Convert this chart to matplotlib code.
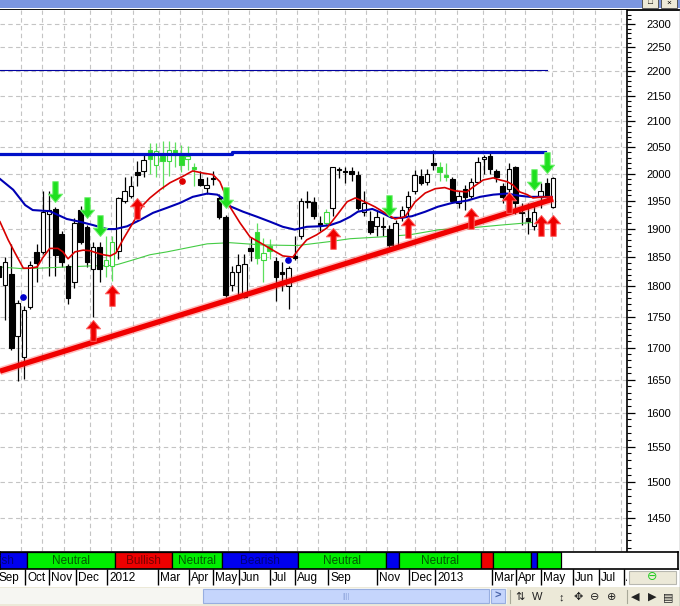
import matplotlib
matplotlib.use('Agg')
import matplotlib.pyplot as plt
from matplotlib.path import Path
from matplotlib.patches import Rectangle
from matplotlib.ticker import FixedLocator, FormatStrFormatter, NullFormatter

plt.rcParams['font.family'] = ['Liberation Sans', 'DejaVu Sans']

# weekly candles, week 0 = week of 12 Sep 2011
weeks = list(range(-1, 88))
opens = [1835, 1803, 1821, 1719, 1685, 1765, 1859, 1859, 1926, 1935,
         1891, 1835, 1807, 1933, 1903, 1829, 1867, 1835, 1835, 1860,
         1950, 1959, 2002, 2004, 2044, 2017, 2033, 2023, 2044, 2036,
         2027, 2013, 1989, 1974, 1991, 1954, 1921, 1802, 1824, 1783,
         1865, 1893, 1845, 1869, 1843, 1824, 1800, 1852, 1887, 1950,
         1948, 1910, 1910, 1937, 2009, 2004, 2004, 1998, 1930, 1913,
         1904, 1905, 1900, 1869, 1921, 1939, 1967, 1996, 1985, 2019,
         2013, 1998, 1989, 1945, 1972, 1959, 1985, 2027, 2033, 2004,
         1976, 1972, 2013, 1930, 1919, 1904, 1957, 1982, 1939]
highs = [1840, 1850, 1872, 1778, 1768, 1843, 1872, 1967, 1967, 1939,
         1895, 1838, 1919, 1941, 1907, 1876, 1876, 1887, 1887, 1957,
         1994, 1996, 2023, 2035, 2057, 2057, 2061, 2061, 2059, 2055,
         2053, 2019, 2004, 1994, 2004, 1963, 1924, 1835, 1855, 1855,
         1885, 1910, 1884, 1882, 1850, 1841, 1835, 1887, 1954, 1967,
         1956, 1923, 1935, 2013, 2013, 2013, 2013, 2004, 1967, 1931,
         1931, 1921, 1907, 1915, 1941, 1967, 2006, 2009, 2009, 2044,
         2021, 2019, 1994, 1967, 1978, 1991, 2032, 2035, 2040, 2009,
         1982, 2019, 2015, 1945, 1945, 1945, 1982, 1991, 1994]
lows = [1810, 1745, 1697, 1648, 1651, 1762, 1807, 1855, 1817, 1817,
        1833, 1770, 1798, 1872, 1833, 1750, 1807, 1816, 1809, 1847,
        1945, 1954, 1976, 1994, 2000, 1994, 1972, 1996, 2013, 2002,
        2006, 1976, 1976, 1963, 1978, 1917, 1782, 1792, 1783, 1780,
        1843, 1838, 1807, 1847, 1775, 1792, 1762, 1845, 1882, 1937,
        1917, 1895, 1904, 1923, 1991, 1982, 1987, 1933, 1923, 1890,
        1887, 1887, 1860, 1864, 1913, 1923, 1963, 1978, 1978, 2006,
        1987, 1987, 1945, 1937, 1933, 1954, 1982, 2000, 2000, 1985,
        1945, 1963, 1926, 1907, 1890, 1898, 1937, 1954, 1937]
closes = [1816, 1841, 1700, 1772, 1760, 1836, 1840, 1930, 1933, 1853,
          1841, 1780, 1910, 1876, 1841, 1868, 1829, 1845, 1877, 1954,
          1968, 1976, 1998, 2025, 2027, 2042, 2023, 2044, 2035, 2017,
          2033, 2009, 1978, 1978, 1989, 1921, 1785, 1824, 1836, 1838,
          1860, 1848, 1857, 1860, 1816, 1821, 1831, 1848, 1950, 1948,
          1922, 1907, 1929, 2012, 2007, 2002, 2000, 1937, 1945, 1893,
          1921, 1903, 1871, 1910, 1934, 1959, 1998, 1983, 2000, 2017,
          2002, 1993, 1950, 1959, 1956, 1985, 2021, 2031, 2009, 1994,
          1956, 2009, 1945, 1928, 1913, 1930, 1968, 1959, 1991]
# candles drawn in the pattern colour
pattern_weeks = [16, 17, 23, 24, 25, 26, 27, 28, 29, 30, 40, 41, 42, 51, 69, 70]

red_ma_weeks = [-0.8, 0.5, 1.6, 2.9, 4.0, 5.1, 6.0, 7.1, 8.4, 9.2,
                10.0, 11.1, 12.4, 13.5, 14.6, 15.6, 16.7, 17.6, 18.7, 20.3,
                21.9, 23.0, 24.6, 26.2, 28.1, 29.8, 31.4, 33.0, 34.1, 35.1,
                35.7, 37.3, 38.9, 40.5, 42.5, 44.1, 45.7, 46.8, 47.9, 49.5,
                51.1, 52.7, 54.3, 55.6, 57.1, 58.7, 60.3, 61.9, 63.5, 65.1,
                66.7, 68.3, 69.8, 71.4, 73.3, 74.3, 75.9, 77.5, 78.6, 79.7,
                80.6, 81.7, 82.9, 83.8, 85.4, 86.8]
red_ma = [1912, 1880, 1857, 1831, 1831, 1833, 1849, 1865, 1865, 1859,
          1847, 1859, 1862, 1861, 1857, 1854, 1852, 1857, 1880, 1910,
          1942, 1955, 1970, 1983, 1994, 2005, 2001, 1998, 1985, 1957,
          1939, 1910, 1885, 1875, 1862, 1852, 1850, 1866, 1880, 1889,
          1901, 1924, 1948, 1955, 1948, 1939, 1928, 1917, 1921, 1948,
          1964, 1972, 1974, 1968, 1966, 1975, 1988, 1992, 1988, 1985,
          1979, 1966, 1961, 1955, 1957, 1957]

blue_ma_weeks = [-0.8, 1.3, 3.2, 4.4, 7.1, 9.8, 11.9, 14.0, 16.2, 17.5,
                 19.4, 21.4, 23.5, 25.7, 27.8, 29.8, 32.1, 33.7, 34.9, 35.7,
                 37.8, 40.0, 42.1, 44.1, 46.0, 47.9, 50.0, 51.6, 53.2, 54.8,
                 56.0, 58.3, 59.8, 61.4, 63.0, 64.6, 66.7, 68.7, 71.0, 73.3,
                 75.4, 77.5, 79.7, 81.7, 83.3, 84.9, 86.8]
blue_ma = [1990, 1970, 1942, 1933, 1931, 1917, 1912, 1906, 1899, 1899,
           1904, 1915, 1928, 1937, 1946, 1957, 1963, 1961, 1952, 1940,
           1930, 1921, 1912, 1903, 1898, 1903, 1904, 1906, 1912, 1921,
           1930, 1935, 1928, 1919, 1919, 1922, 1930, 1939, 1946, 1950,
           1957, 1961, 1963, 1959, 1957, 1957, 1957]

green_ma_weeks = [-0.8, 2.9, 5.6, 9.8, 14.0, 16.2, 17.8, 20.3, 23.0, 25.7,
                  28.9, 32.1, 35.7, 41.0, 46.4, 51.6, 54.8, 59.5, 64.3, 69.0,
                  73.8, 78.6, 84.9]
green_ma = [1833, 1830, 1831, 1833, 1835, 1835, 1837, 1845, 1854, 1859,
            1866, 1873, 1875, 1871, 1870, 1877, 1882, 1885, 1889, 1898,
            1901, 1906, 1912]

resist_weeks = [-0.8, 36, 36, 85.7]
resist_levels = [2037, 2037, 2040, 2040]
upper_weeks = [-0.8, 86]
upper_levels = [2203, 2203]
trend_weeks = [-0.8, 87]
trend_levels = [1663, 1953]

sell_weeks = [8, 13, 15, 35, 61, 84, 86]
sell_prices = [1948, 1919, 1887, 1937, 1923, 1970, 2001]
buy_weeks = [14, 17, 21, 52, 64, 74, 80, 85, 87]
buy_prices = [1745, 1803, 1955, 1901, 1921, 1937, 1966, 1925, 1925]

blue_dot_weeks = [2.9, 44.9]
blue_dot_prices = [1782, 1845]
red_dot_weeks = [28.1]
red_dot_prices = [1986]

sentiment = ['Bearish', 'Neutral', 'Bullish', 'Neutral', 'Bearish', 'Neutral',
             'Bearish', 'Neutral', 'Bullish', 'Neutral', 'Bearish', 'Neutral']
sentiment_edges = [-7, 3.5, 17.5, 26.5, 34.5, 46.5, 60.5, 62.5, 75.5, 77.5,
                   83.5, 84.5, 88.25]

month_labels = ['Sep', 'Oct', 'Nov', 'Dec', '2012', 'Mar', 'Apr', 'May', 'Jun',
                'Jul', 'Aug', 'Sep', 'Nov', 'Dec', '2013', 'Mar', 'Apr', 'May',
                'Jun', 'Jul', 'Aug']
month_weeks = [-1.3, 3.2, 7.0, 11.3, 16.2, 24.3, 29.2, 33.0, 37.1, 42.1, 46.0,
               51.3, 59.0, 64.1, 68.3, 77.3, 81.1, 85.0, 90.2, 94.3, 98.3]

grid_weeks = [2.5, 5.8, 9.3, 13.5, 16.8, 20.3, 24.4, 27.8, 31.2, 35.4, 38.7,
              43.0, 46.4, 49.7, 54.0, 57.3, 60.7, 65.0, 68.3, 71.7, 75.9, 79.3,
              82.6, 86.8, 90.2, 93.6, 97.8]
price_ticks = list(range(1450, 2301, 50))

W, H = 680, 606
fig = plt.figure(figsize=(W / 100, H / 100), dpi=100)


def px_axes(x0, y0, x1, y1):
    return fig.add_axes([x0 / W, 1 - y1 / H, (x1 - x0) / W, (y1 - y0) / H])


# window chrome, in pixels
bg = fig.add_axes([0, 0, 1, 1])
bg.set_xlim(0, W)
bg.set_ylim(H, 0)
bg.axis('off')
bg.add_patch(Rectangle((0, 0), W, 8, color='#7b96e0', lw=0))
bg.plot([0, W], [8.5, 8.5], color='#dfe4f4', lw=0.8)
bg.plot([0, W], [9.6, 9.6], color='black', lw=1.3)
for x0, sym in ((642, '□'), (661, '×')):
    bg.add_patch(Rectangle((x0, -2), 16, 9.5, fc='#ece9d8', ec='#555555', lw=0.7))
    bg.text(x0 + 8, 3, sym, fontsize=6, ha='center', va='center', color='black')
bg.plot([679.5, 679.5], [10, H], color='#808080', lw=1)

bg.add_patch(Rectangle((0, 587), W, 19, color='#ece9d8', lw=0))
bg.add_patch(Rectangle((0, 588), 507, 16, fc='#f6f6f2', ec='none'))
bg.add_patch(Rectangle((203, 589), 286, 14, fc='#c5d5fc', ec='#98aee0', lw=0.8))
bg.text(346, 596, '||||', fontsize=5, ha='center', va='center', color='#8ea4dc')
bg.add_patch(Rectangle((491, 589), 14, 14, fc='#c5d5fc', ec='#98aee0', lw=0.8))
bg.text(498, 596, '>', fontsize=8, ha='center', va='center', color='#4a64a8',
        fontweight='bold')
for xs in (510, 627):
    bg.plot([xs, xs], [590, 603], color='#a8a898', lw=0.8)
icons = [(520, '⇅'), (537, 'W'), (561, '↕'), (578, '✥'), (595, '⊖'),
         (612, '⊕'), (635, '◀'), (652, '▶'), (668, '▤')]
for xi, sym in icons:
    bg.text(xi, 597, sym, fontsize=8, ha='center', va='center', color='#222222')
bg.add_patch(Rectangle((629, 571), 47, 13, fc='#ece9d8', ec='#b8b8b0', lw=0.8))
bg.text(652, 577.5, '⊖', fontsize=9, ha='center', va='center', color='#22cc22')

# price panel
ax = px_axes(0, 10, 627, 551)
ax.set_yscale('log')
ax.set_xlim(-0.794, 98.73)
ax.set_ylim(1406, 2330)
ax.set_facecolor('white')
ax.set_axisbelow(True)

ax.set_xticks(grid_weeks)
ax.tick_params(axis='x', length=0, labelbottom=False)
ax.yaxis.tick_right()
ax.yaxis.set_major_locator(FixedLocator(price_ticks))
ax.yaxis.set_minor_locator(FixedLocator([v for v in range(1410, 2330, 10) if v % 50]))
ax.yaxis.set_major_formatter(FormatStrFormatter('%d'))
ax.yaxis.set_minor_formatter(NullFormatter())
ax.tick_params(axis='y', which='major', direction='out', length=5.5, width=0.9,
               labelsize=8, pad=8.5, colors='black')
ax.tick_params(axis='y', which='minor', direction='out', length=2.7, width=0.8)
ax.grid(True, which='major', color='#c4c4c4', ls=(0, (4, 3)), lw=0.8)
for side in ('left', 'top', 'bottom'):
    ax.spines[side].set_visible(False)
ax.spines['right'].set_linewidth(1.2)

# candles
wick_cols, face_cols, edge_cols, bottoms, heights = [], [], [], [], []
for w, o, c in zip(weeks, opens, closes):
    pat = w in pattern_weeks
    up = c >= o
    if pat:
        wick_cols.append('#5ee05e')
        face_cols.append('white' if up else '#2add2a')
        edge_cols.append('#3fd83f')
    else:
        wick_cols.append('black')
        face_cols.append('white' if up else 'black')
        edge_cols.append('black')
    bottoms.append(min(o, c))
    heights.append(max(abs(c - o), 1.0))
ax.vlines(weeks, lows, highs, colors=wick_cols, lw=0.9, zorder=3)
ax.bar(weeks, heights, bottom=bottoms, width=0.7, color=face_cols,
       edgecolor=edge_cols, linewidth=0.8, zorder=4)

# averages and levels
ax.plot(green_ma_weeks, green_ma, color='#44cc44', lw=0.8, zorder=3.5)
ax.plot(blue_ma_weeks, blue_ma, color='#0000b4', lw=1.5, zorder=5)
ax.plot(red_ma_weeks, red_ma, color='#d80000', lw=1.2, zorder=5.2)
ax.plot(resist_weeks, resist_levels, color='#0010c8', lw=2.3, zorder=5)
ax.plot(upper_weeks, upper_levels, color='#0000a0', lw=0.8, zorder=5)
ax.plot(trend_weeks, trend_levels, color='#ff4040', lw=6, alpha=0.35,
        solid_capstyle='butt', zorder=6)
ax.plot(trend_weeks, trend_levels, color='#f00000', lw=3.8,
        solid_capstyle='butt', zorder=6.1)

# signal arrows, tip on the price
up_arrow = Path([(0, 0), (0.34, -0.4), (0.13, -0.4), (0.13, -1), (-0.13, -1),
                 (-0.13, -0.4), (-0.34, -0.4), (0, 0)], closed=True)
down_arrow = Path([(x, -y) for x, y in up_arrow.vertices], closed=True)
ax.plot(buy_weeks, buy_prices, ls='none', marker=up_arrow, ms=30,
        mfc='#ee0000', mec='#ff6060', mew=0.7, zorder=7)
ax.plot(sell_weeks, sell_prices, ls='none', marker=down_arrow, ms=30,
        mfc='#1fe01f', mec='#70f070', mew=0.7, zorder=7)
ax.plot(blue_dot_weeks, blue_dot_prices, ls='none', marker='o', ms=3.8,
        color='#0000cc', zorder=8)
ax.plot(red_dot_weeks, red_dot_prices, ls='none', marker='o', ms=3.8,
        color='#dd0000', zorder=8)

# sentiment strip
fills = {'Bearish': '#0000ee', 'Neutral': '#00ee00', 'Bullish': '#ee0000'}
inks = {'Bearish': '#00007a', 'Neutral': '#005a00', 'Bullish': '#780000'}
sa = px_axes(0, 552, 678, 569)
sa.set_xlim(-0.794, 106.83)
sa.set_ylim(0, 1)
sa.set_xticks([])
sa.set_yticks([])
for s in sa.spines.values():
    s.set_linewidth(1.2)
for name, e0, e1 in zip(sentiment, sentiment_edges[:-1], sentiment_edges[1:]):
    sa.add_patch(Rectangle((e0, 0), e1 - e0, 1, fc=fills[name], ec='black', lw=0.9))
    if e1 - e0 > 7.5:
        sa.text((e0 + e1) / 2, 0.47, name, ha='center', va='center', fontsize=8.5,
                color=inks[name], clip_on=True)

# month row
ma = px_axes(0, 569, 627, 587)
ma.set_xlim(-0.794, 98.73)
ma.set_ylim(0, 1)
ma.axis('off')
ma.vlines(month_weeks, 0.1, 1, colors='black', lw=1)
for name, w in zip(month_labels, month_weeks):
    ma.annotate(name, (w, 0.5), xytext=(2, 0), textcoords='offset pixels',
                ha='left', va='center', fontsize=8.5, color='black',
                annotation_clip=False, clip_on=True)

fig.savefig('out.png', dpi=100)
